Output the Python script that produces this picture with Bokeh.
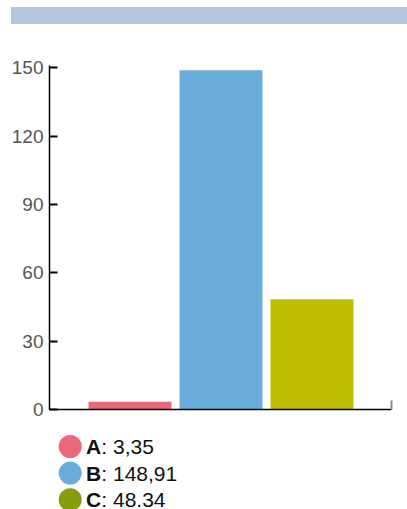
from bokeh.plotting import figure
from bokeh.layouts import column
from bokeh.models import Range1d, FixedTicker, ColumnDataSource, Div
from bokeh.core.properties import value
from bokeh.embed import file_html
from bokeh.resources import INLINE

categories = ["A", "B", "C"]
values = [3.35, 148.91, 48.34]
value_labels = ["3,35", "148,91", "48.34"]
bar_colors = ["#e9697b", "#6aaddb", "#bdbf00"]
legend_colors = ["#e9697b", "#6aaddb", "#879d10"]
y_ticks = [0, 30, 60, 90, 120, 150]

FONT = "Liberation Sans"

# --- top band ---
band = Div(text="", width=396, height=17, margin=(7, 0, 0, 11),
           styles={"background-color": "#b0c7dd"})

# --- main chart ---
xs = [1 + i for i in range(len(categories))]
src = ColumnDataSource(dict(x=xs, top=values, color=bar_colors, cat=categories))
p = figure(width=407, height=396, output_backend="svg", toolbar_location=None,
           x_range=Range1d(0.115, 3.874), y_range=Range1d(0, 151),
           min_border_left=49, min_border_right=16, min_border_top=41, min_border_bottom=11,
           outline_line_color=None)
p.grid.visible = False
p.vbar(x="x", top="top", bottom=0, width=0.912, color="color", line_color=None, source=src)

ya = p.yaxis[0]
ya.ticker = FixedTicker(ticks=y_ticks)
ya.minor_tick_line_color = None
ya.major_tick_in = 8
ya.major_tick_out = 0
ya.major_tick_line_width = 2
ya.major_tick_line_color = "black"
ya.axis_line_color = "black"
ya.axis_line_width = 1.5
ya.major_label_standoff = 6
ya.major_label_text_font = FONT
ya.major_label_text_font_size = "19px"
ya.major_label_text_color = "#555555"

xa = p.xaxis[0]
xa.ticker = FixedTicker(ticks=[3.874])
xa.minor_tick_line_color = None
xa.major_tick_in = 9
xa.major_tick_out = 0
xa.major_tick_line_color = "#888888"
xa.major_tick_line_width = 2
xa.axis_line_color = "black"
xa.axis_line_width = 1.5
xa.major_label_text_font_size = "1px"
xa.major_label_text_alpha = 0
xa.major_label_standoff = 0

# --- legend (x in page pixels, y in pixels from legend top) ---
leg = figure(width=407, height=89, output_backend="svg", toolbar_location=None,
             x_range=Range1d(49, 391), y_range=Range1d(89, 0),
             x_axis_location=None, y_axis_location=None,
             min_border_left=49, min_border_right=16, min_border_top=0, min_border_bottom=0,
             outline_line_color=None)
leg.grid.visible = False
ly = [26 + 26.6 * i for i in range(len(categories))]
leg.scatter(x=[69.7] * 3, y=ly, size=23, color=legend_colors, line_color=None)
leg.text(x=[85.5] * 3, y=ly, text=categories, text_font=value(FONT), text_font_style="bold",
         text_font_size="21px", text_baseline="middle", text_color="#111111")
leg.text(x=[100.8] * 3, y=ly, text=[": " + s for s in value_labels], text_font=value(FONT),
         text_font_size="21px", text_baseline="middle", text_color="#111111")

layout = column(band, p, leg, spacing=0)
open("out.html", "w").write(file_html(layout, INLINE))
